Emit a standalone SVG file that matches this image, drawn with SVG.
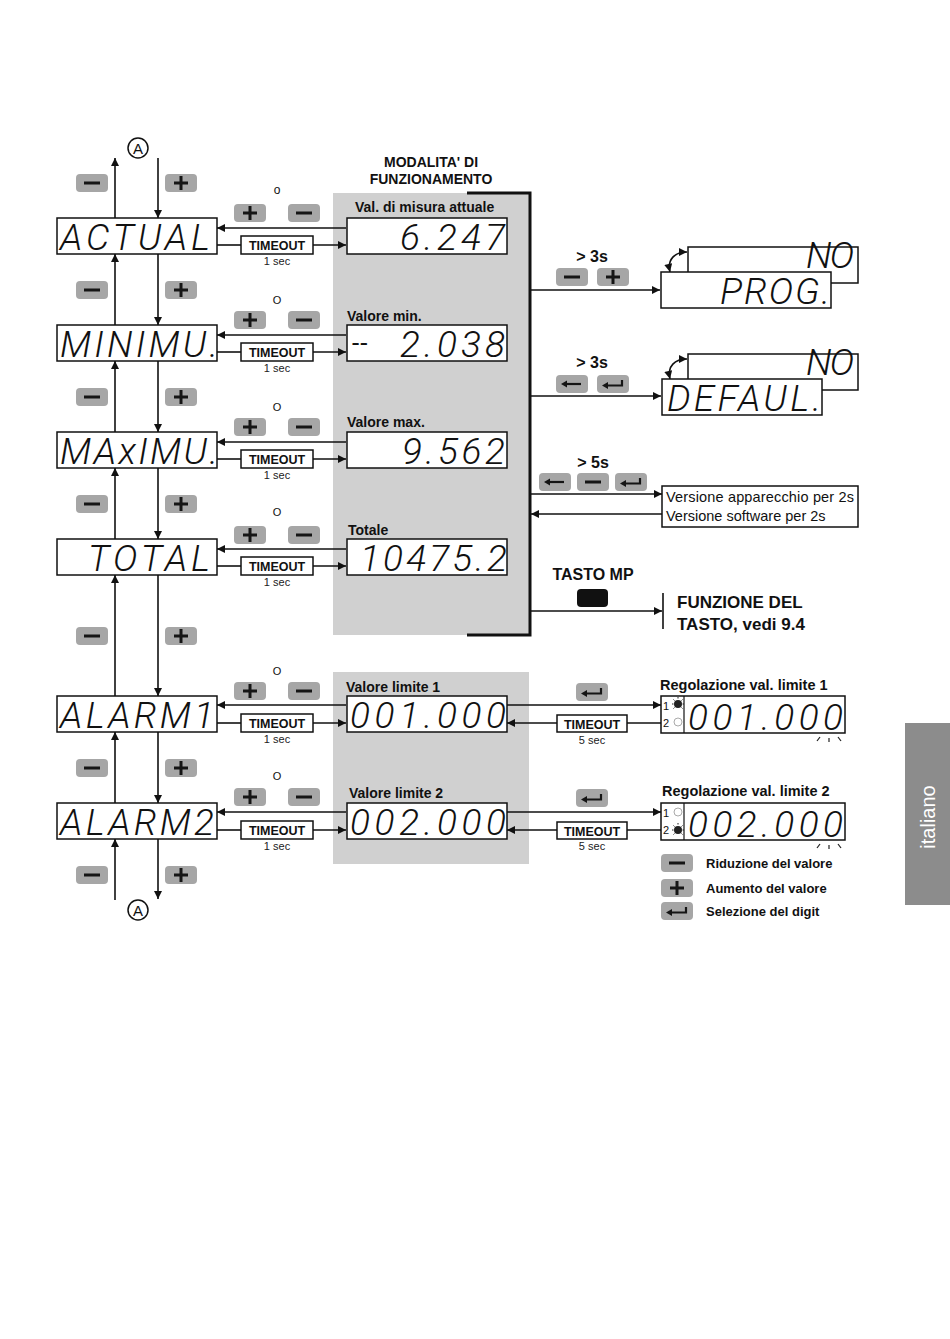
<svg xmlns="http://www.w3.org/2000/svg" xmlns:xlink="http://www.w3.org/1999/xlink" width="950" height="1339" viewBox="0 0 950 1339">
<style>
.lbl{font-family:"Liberation Sans",Arial,sans-serif;fill:#111}
.b{font-weight:bold}
.seg{font-family:Roboto,"DejaVu Sans",sans-serif;font-style:italic;font-weight:300;font-size:37px;fill:#111}
.disp{fill:#fff;stroke:#111;stroke-width:1.5}
.tbox{fill:#fff;stroke:#111;stroke-width:1.5}
.tt{font-family:"Liberation Sans",Arial,sans-serif;font-weight:bold;font-size:12.5px;fill:#111;text-anchor:middle}
.ts{font-family:"Liberation Sans",Arial,sans-serif;font-size:11px;fill:#222;text-anchor:middle}
.ln{stroke:#111;stroke-width:1.6;fill:none}
.arr{marker-end:url(#ah)}
.panel{fill:#d0d0d0}
.btn{fill:#a6a6a6}
.ic{stroke:#151515;fill:none}
</style>
<defs>
<marker id="ah" viewBox="0 0 10 10" refX="10" refY="5" markerWidth="9" markerHeight="8" markerUnits="userSpaceOnUse" orient="auto-start-reverse"><path d="M0,0 L10,5 L0,10 z" fill="#111"/></marker>
<g id="bMinus"><rect class="btn" x="-16" y="-9" width="32" height="18" rx="4"/><line class="ic" x1="-8" y1="0" x2="8" y2="0" stroke-width="3"/></g>
<g id="bPlus"><rect class="btn" x="-16" y="-9" width="32" height="18" rx="4"/><line class="ic" x1="-7" y1="0" x2="7" y2="0" stroke-width="3"/><line class="ic" x1="0" y1="-7" x2="0" y2="7" stroke-width="3"/></g>
<g id="bLeft"><rect class="btn" x="-16" y="-9" width="32" height="18" rx="4"/><line class="ic" x1="-6" y1="0" x2="9" y2="0" stroke-width="2.2"/><path d="M-11,0 L-5,-3.5 L-5,3.5 z" fill="#151515"/></g>
<g id="bEnter"><rect class="btn" x="-16" y="-9" width="32" height="18" rx="4"/><path class="ic" d="M9,-4 V1.5 H-6" stroke-width="2.2"/><path d="M-11,1.5 L-5,-2 L-5,5 z" fill="#151515"/></g>
</defs>
<rect width="950" height="1339" fill="#fff"/>

<!-- gray panels -->
<rect class="panel" x="333" y="193" width="196" height="442"/>
<rect class="panel" x="333" y="672" width="196" height="192"/>

<!-- italiano tab -->
<g id="tab">
<rect x="905" y="723" width="45" height="182" fill="#8c8c8c"/>
<text x="0" y="0" transform="translate(935,817) rotate(-90)" text-anchor="middle" style="font-family:'Liberation Sans',Arial,sans-serif;font-size:20px;fill:#fff">italiano</text>
</g>

<!-- connectors -->
<g id="connectors">
<line class="ln arr" x1="115" y1="218" x2="115" y2="158"/>
<line class="ln arr" x1="158" y1="158" x2="158" y2="218"/>
<line class="ln arr" x1="115" y1="325" x2="115" y2="254"/>
<line class="ln arr" x1="158" y1="254" x2="158" y2="325"/>
<line class="ln arr" x1="115" y1="432" x2="115" y2="361"/>
<line class="ln arr" x1="158" y1="361" x2="158" y2="432"/>
<line class="ln arr" x1="115" y1="539" x2="115" y2="468"/>
<line class="ln arr" x1="158" y1="468" x2="158" y2="539"/>
<line class="ln arr" x1="115" y1="696" x2="115" y2="575"/>
<line class="ln arr" x1="158" y1="575" x2="158" y2="696"/>
<line class="ln arr" x1="115" y1="803" x2="115" y2="732"/>
<line class="ln arr" x1="158" y1="732" x2="158" y2="803"/>
<line class="ln arr" x1="115" y1="900" x2="115" y2="839"/>
<line class="ln arr" x1="158" y1="839" x2="158" y2="899"/>
<line class="ln arr" x1="346" y1="228" x2="217" y2="228"/>
<line class="ln" x1="217" y1="245" x2="241" y2="245"/>
<line class="ln arr" x1="313" y1="245" x2="346" y2="245"/>
<line class="ln arr" x1="346" y1="335" x2="217" y2="335"/>
<line class="ln" x1="217" y1="352" x2="241" y2="352"/>
<line class="ln arr" x1="313" y1="352" x2="346" y2="352"/>
<line class="ln arr" x1="346" y1="442" x2="217" y2="442"/>
<line class="ln" x1="217" y1="459" x2="241" y2="459"/>
<line class="ln arr" x1="313" y1="459" x2="346" y2="459"/>
<line class="ln arr" x1="346" y1="549" x2="217" y2="549"/>
<line class="ln" x1="217" y1="566" x2="241" y2="566"/>
<line class="ln arr" x1="313" y1="566" x2="346" y2="566"/>
<line class="ln arr" x1="346" y1="705" x2="217" y2="705"/>
<line class="ln" x1="217" y1="723" x2="241" y2="723"/>
<line class="ln arr" x1="313" y1="723" x2="346" y2="723"/>
<line class="ln arr" x1="346" y1="812" x2="217" y2="812"/>
<line class="ln" x1="217" y1="830" x2="241" y2="830"/>
<line class="ln arr" x1="313" y1="830" x2="346" y2="830"/>
<line class="ln arr" x1="507" y1="705" x2="661" y2="705"/>
<line class="ln" x1="661" y1="723" x2="627" y2="723"/>
<line class="ln arr" x1="557" y1="723" x2="507" y2="723"/>
<line class="ln arr" x1="507" y1="812" x2="661" y2="812"/>
<line class="ln" x1="661" y1="830" x2="627" y2="830"/>
<line class="ln arr" x1="557" y1="830" x2="507" y2="830"/>
<path d="M467,193 H530 V635 H467" fill="none" stroke="#111" stroke-width="3"/>
<line class="ln arr" x1="531" y1="290" x2="660" y2="290"/>
<line class="ln arr" x1="531" y1="396" x2="661" y2="396"/>
<line class="ln arr" x1="531" y1="494" x2="662" y2="494"/>
<line class="ln arr" x1="662" y1="514" x2="531" y2="514"/>
<line class="ln arr" x1="531" y1="611" x2="662" y2="611"/>
<line class="ln" x1="663" y1="593" x2="663" y2="629"/>
<path class="ln" d="M670,272 C667,259 675,252 687,252" style="marker-start:url(#ah);marker-end:url(#ah)" stroke-width="1.3"/>
<path class="ln" d="M670,379 C667,366 675,359 687,359" style="marker-start:url(#ah);marker-end:url(#ah)" stroke-width="1.3"/>
</g>

<!-- A markers -->
<g id="A-top"><circle cx="138" cy="148" r="10" fill="#fff" stroke="#111" stroke-width="1.5"/><text class="lbl" x="138" y="153.5" text-anchor="middle" font-size="15">A</text></g>
<g id="A-bottom"><circle cx="138" cy="910" r="10" fill="#fff" stroke="#111" stroke-width="1.5"/><text class="lbl" x="138" y="915.5" text-anchor="middle" font-size="15">A</text></g>

<!-- left column buttons -->
<g id="left-buttons">
<use href="#bMinus" x="92" y="183"/><use href="#bPlus" x="181" y="183"/>
<use href="#bMinus" x="92" y="290"/><use href="#bPlus" x="181" y="290"/>
<use href="#bMinus" x="92" y="397"/><use href="#bPlus" x="181" y="397"/>
<use href="#bMinus" x="92" y="504"/><use href="#bPlus" x="181" y="504"/>
<use href="#bMinus" x="92" y="636"/><use href="#bPlus" x="181" y="636"/>
<use href="#bMinus" x="92" y="768"/><use href="#bPlus" x="181" y="768"/>
<use href="#bMinus" x="92" y="875"/><use href="#bPlus" x="181" y="875"/>
</g>

<!-- row buttons and 'o' -->
<g id="row-buttons">
<use href="#bPlus" x="250" y="213"/><use href="#bMinus" x="304" y="213"/>
<use href="#bPlus" x="250" y="320"/><use href="#bMinus" x="304" y="320"/>
<use href="#bPlus" x="250" y="427"/><use href="#bMinus" x="304" y="427"/>
<use href="#bPlus" x="250" y="535"/><use href="#bMinus" x="304" y="535"/>
<use href="#bPlus" x="250" y="691"/><use href="#bMinus" x="304" y="691"/>
<use href="#bPlus" x="250" y="797"/><use href="#bMinus" x="304" y="797"/>
<text class="lbl" x="277" y="194" text-anchor="middle" font-size="12">o</text>
<text class="lbl" x="277" y="304" text-anchor="middle" font-size="11">O</text>
<text class="lbl" x="277" y="411" text-anchor="middle" font-size="11">O</text>
<text class="lbl" x="277" y="516" text-anchor="middle" font-size="11">O</text>
<text class="lbl" x="277" y="675" text-anchor="middle" font-size="11">O</text>
<text class="lbl" x="277" y="780" text-anchor="middle" font-size="11">O</text>
</g>

<!-- left displays -->
<g id="actual"><rect class="disp" x="57" y="218" width="160" height="36"/><text class="seg" x="60" y="250" textLength="150">ACTUAL</text></g>
<g id="minimu"><rect class="disp" x="57" y="325" width="160" height="36"/><text class="seg" x="60" y="357" textLength="158">MINIMU.</text></g>
<g id="maximu"><rect class="disp" x="57" y="432" width="160" height="36"/><text class="seg" x="60" y="464" textLength="158">MAxIMU.</text></g>
<g id="total"><rect class="disp" x="57" y="539" width="160" height="36"/><text class="seg" x="88" y="571" textLength="122">TOTAL</text></g>
<g id="alarm1"><rect class="disp" x="57" y="696" width="160" height="36"/><text class="seg" x="60" y="728" textLength="154">ALARM1</text></g>
<g id="alarm2"><rect class="disp" x="57" y="803" width="160" height="36"/><text class="seg" x="60" y="835" textLength="154">ALARM2</text></g>

<!-- timeout boxes -->
<g id="timeouts">
<rect class="tbox" x="241" y="236" width="72" height="18"/><text class="tt" x="277" y="250">TIMEOUT</text><text class="ts" x="277" y="265">1 sec</text>
<rect class="tbox" x="241" y="343" width="72" height="18"/><text class="tt" x="277" y="357">TIMEOUT</text><text class="ts" x="277" y="372">1 sec</text>
<rect class="tbox" x="241" y="450" width="72" height="18"/><text class="tt" x="277" y="464">TIMEOUT</text><text class="ts" x="277" y="479">1 sec</text>
<rect class="tbox" x="241" y="557" width="72" height="18"/><text class="tt" x="277" y="571">TIMEOUT</text><text class="ts" x="277" y="586">1 sec</text>
<rect class="tbox" x="241" y="714" width="72" height="18"/><text class="tt" x="277" y="728">TIMEOUT</text><text class="ts" x="277" y="743">1 sec</text>
<rect class="tbox" x="241" y="821" width="72" height="18"/><text class="tt" x="277" y="835">TIMEOUT</text><text class="ts" x="277" y="850">1 sec</text>
<rect class="tbox" x="557" y="715" width="70" height="17"/><text class="tt" x="592" y="728.5">TIMEOUT</text><text class="ts" x="592" y="744">5 sec</text>
<rect class="tbox" x="557" y="822" width="70" height="17"/><text class="tt" x="592" y="835.5">TIMEOUT</text><text class="ts" x="592" y="850">5 sec</text>
</g>

<!-- title -->
<g id="title">
<text class="lbl b" x="431" y="167" text-anchor="middle" font-size="14">MODALITA' DI</text>
<text class="lbl b" x="431" y="184" text-anchor="middle" font-size="14">FUNZIONAMENTO</text>
</g>

<!-- middle displays -->
<g id="val-actual"><text class="lbl b" x="355" y="212" font-size="14">Val. di misura attuale</text><rect class="disp" x="347" y="218" width="160" height="36"/><text class="seg" x="400" y="250" textLength="105">6.247</text></g>
<g id="val-min"><text class="lbl b" x="347" y="321" font-size="14">Valore min.</text><rect class="disp" x="347" y="325" width="160" height="36"/><text class="seg" y="357"><tspan x="352" font-size="26" font-weight="400" font-style="normal" dy="-5" letter-spacing="1">--</tspan><tspan x="400" dy="5" textLength="105">2.038</tspan></text></g>
<g id="val-max"><text class="lbl b" x="347" y="427" font-size="14">Valore max.</text><rect class="disp" x="347" y="432" width="160" height="36"/><text class="seg" x="402" y="464" textLength="103">9.562</text></g>
<g id="val-total"><text class="lbl b" x="348" y="535" font-size="14">Totale</text><rect class="disp" x="347" y="539" width="160" height="36"/><text class="seg" x="360" y="571" textLength="147">10475.2</text></g>
<g id="val-lim1"><text class="lbl b" x="346" y="692" font-size="14">Valore limite 1</text><rect class="disp" x="347" y="696" width="160" height="36"/><text class="seg" x="350" y="728" textLength="156">001.000</text></g>
<g id="val-lim2"><text class="lbl b" x="349" y="798" font-size="14">Valore limite 2</text><rect class="disp" x="347" y="803" width="160" height="36"/><text class="seg" x="350" y="835" textLength="156">002.000</text></g>

<!-- right branch labels -->
<g id="prog-keys"><text class="lbl b" x="592" y="262" text-anchor="middle" font-size="16">&gt; 3s</text><use href="#bMinus" x="572" y="277"/><use href="#bPlus" x="613" y="277"/></g>
<g id="defaul-keys"><text class="lbl b" x="592" y="368" text-anchor="middle" font-size="16">&gt; 3s</text><use href="#bLeft" x="572" y="384"/><use href="#bEnter" x="613" y="384"/></g>
<g id="version-keys"><text class="lbl b" x="593" y="468" text-anchor="middle" font-size="16">&gt; 5s</text><use href="#bLeft" x="555" y="482"/><use href="#bMinus" x="593" y="482"/><use href="#bEnter" x="631" y="482"/></g>

<!-- PROG -->
<g id="prog">
<rect class="disp" x="688" y="247" width="170" height="36"/><text class="seg" x="806" y="268" font-size="26" textLength="48">NO</text>
<rect class="disp" x="661" y="272" width="170" height="36"/><text class="seg" x="720" y="304" font-size="34" textLength="110">PROG.</text>
</g>
<!-- DEFAUL -->
<g id="defaul">
<rect class="disp" x="688" y="354" width="170" height="36"/><text class="seg" x="806" y="375" font-size="26" textLength="48">NO</text>
<rect class="disp" x="662" y="379" width="160" height="36"/><text class="seg" x="667" y="411" font-size="34" textLength="154">DEFAUL.</text>
</g>
<!-- version -->
<g id="version">
<rect class="disp" x="662" y="486" width="196" height="41"/>
<text class="lbl" x="666" y="502" font-size="14.5" textLength="188">Versione apparecchio per 2s</text>
<text class="lbl" x="666" y="521" font-size="14.5">Versione software per 2s</text>
</g>
<!-- tasto MP -->
<g id="tasto">
<text class="lbl b" x="593" y="580" text-anchor="middle" font-size="16">TASTO MP</text>
<rect x="577" y="589" width="31" height="18" rx="4" fill="#111"/>
<text class="lbl b" x="677" y="608" font-size="17">FUNZIONE DEL</text>
<text class="lbl b" x="677" y="630" font-size="17">TASTO, vedi 9.4</text>
</g>

<!-- alarm adjust displays -->
<g id="reg1">
<use href="#bEnter" x="592" y="692"/>
<text class="lbl b" x="660" y="690" font-size="14.5">Regolazione val. limite 1</text>
<rect class="disp" x="661" y="696" width="184" height="37"/>
<line x1="684" y1="696" x2="684" y2="733" stroke="#111" stroke-width="1.2"/>
<text class="lbl" x="663" y="710" font-size="11">1</text>
<circle cx="678" cy="704" r="4" fill="#222"/>
<g stroke="#222" stroke-width="1"><line x1="678" y1="697" x2="678" y2="698.5"/><line x1="672" y1="704" x2="673.5" y2="704"/><line x1="682.5" y1="704" x2="684" y2="704"/><line x1="673.5" y1="699.5" x2="674.5" y2="700.5"/><line x1="682.5" y1="699.5" x2="681.5" y2="700.5"/><line x1="673.5" y1="708.5" x2="674.5" y2="707.5"/><line x1="682.5" y1="708.5" x2="681.5" y2="707.5"/></g>
<text class="lbl" x="663" y="727" font-size="11">2</text>
<circle cx="678" cy="722" r="4" fill="#fff" stroke="#aaa" stroke-width="1"/>
<text class="seg" x="688" y="730" font-size="39" textLength="155">001.000</text>
<g stroke="#222" stroke-width="1.2"><line x1="817" y1="741" x2="820" y2="737"/><line x1="829" y1="738" x2="829" y2="742"/><line x1="838" y1="737" x2="841" y2="741"/></g>
</g>
<g id="reg2">
<use href="#bEnter" x="592" y="798"/>
<text class="lbl b" x="662" y="796" font-size="14.5">Regolazione val. limite 2</text>
<rect class="disp" x="661" y="803" width="184" height="37"/>
<line x1="684" y1="803" x2="684" y2="840" stroke="#111" stroke-width="1.2"/>
<text class="lbl" x="663" y="817" font-size="11">1</text>
<circle cx="678" cy="812" r="4" fill="#fff" stroke="#aaa" stroke-width="1"/>
<text class="lbl" x="663" y="834" font-size="11">2</text>
<circle cx="678" cy="830" r="4" fill="#222"/>
<g stroke="#222" stroke-width="1"><line x1="678" y1="823" x2="678" y2="824.5"/><line x1="672" y1="830" x2="673.5" y2="830"/><line x1="682.5" y1="830" x2="684" y2="830"/><line x1="673.5" y1="825.5" x2="674.5" y2="826.5"/><line x1="682.5" y1="825.5" x2="681.5" y2="826.5"/><line x1="673.5" y1="834.5" x2="674.5" y2="833.5"/><line x1="682.5" y1="834.5" x2="681.5" y2="833.5"/></g>
<text class="seg" x="688" y="837" font-size="39" textLength="155">002.000</text>
<g stroke="#222" stroke-width="1.2"><line x1="817" y1="848" x2="820" y2="844"/><line x1="829" y1="845" x2="829" y2="849"/><line x1="838" y1="844" x2="841" y2="848"/></g>
</g>

<!-- legend -->
<g id="legend">
<use href="#bMinus" x="677" y="863"/><text class="lbl b" x="706" y="868" font-size="13">Riduzione del valore</text>
<use href="#bPlus" x="677" y="888"/><text class="lbl b" x="706" y="893" font-size="13">Aumento del valore</text>
<use href="#bEnter" x="677" y="911"/><text class="lbl b" x="706" y="916" font-size="13">Selezione del digit</text>
</g>
</svg>
